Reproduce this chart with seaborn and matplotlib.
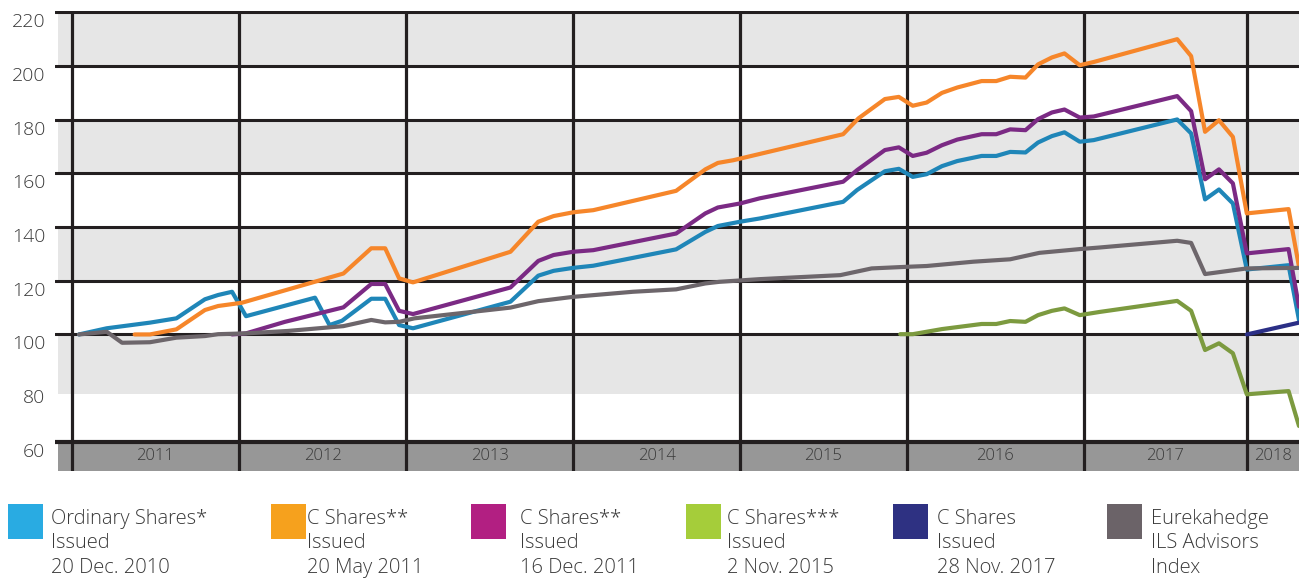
import numpy as np
import pandas as pd
import matplotlib
matplotlib.use("Agg")
import matplotlib.pyplot as plt
import matplotlib.transforms as mtransforms
from matplotlib.patches import Rectangle
import seaborn as sns

# x values = months counted from the start of 2011
ord_x = [0.5, 2.5, 5.6, 7.5, 9.55, 10.5, 11.5, 12.5, 17.46, 18.5, 19.4, 21.5, 22.5, 23.5, 24.5,
         31.5, 33.5, 34.6, 36.0, 37.45, 43.4, 45.5, 46.4, 48.0, 49.4, 55.4, 56.4, 58.4, 59.4,
         60.4, 61.4, 62.5, 63.6, 65.35, 66.4, 67.4, 68.5, 69.4, 70.4, 71.3, 72.4, 73.4, 79.4,
         80.4, 81.4, 82.4, 83.4, 84.4, 87.4, 88.15]
ord_y = [100.0, 102.3, 104.4, 106.0, 113.1, 114.7, 115.9, 106.8, 113.7, 103.5, 105.1, 113.3, 113.3,
         103.5, 102.3, 112.2, 121.9, 123.7, 124.8, 125.6, 131.7, 138.2, 140.4, 142.0, 143.2, 149.4,
         153.8, 160.8, 161.7, 158.7, 159.7, 162.7, 164.6, 166.5, 166.5, 168.0, 167.8, 171.5, 173.9,
         175.3, 171.8, 172.4, 180.1, 174.9, 150.3, 154.0, 148.8, 124.2, 125.8, 105.4]

c11_x = [4.5, 5.6, 7.5, 9.55, 10.5, 12.2, 19.5, 21.5, 22.5, 23.5, 24.5, 31.5, 33.5, 34.6, 36.0,
         37.45, 43.4, 45.5, 46.4, 47.5, 55.4, 56.5, 58.4, 59.4, 60.4, 61.4, 62.5, 63.6, 65.35,
         66.4, 67.4, 68.5, 69.4, 70.4, 71.3, 72.4, 73.4, 79.4, 80.4, 81.4, 82.4, 83.4, 84.4,
         87.4, 88.15]
c11_y = [100.0, 100.0, 101.9, 109.1, 110.6, 111.8, 122.7, 132.1, 132.1, 120.9, 119.4, 130.8, 142.0,
         144.1, 145.5, 146.3, 153.5, 161.5, 163.9, 164.9, 174.6, 180.5, 187.7, 188.5, 185.2, 186.4,
         190.0, 192.0, 194.4, 194.4, 196.0, 195.7, 200.6, 203.2, 204.7, 200.3, 201.5, 210.0, 203.7,
         175.5, 179.8, 173.6, 145.1, 146.7, 125.2]

c12_x = [11.5, 12.5, 15.3, 19.5, 21.5, 22.5, 23.5, 24.5, 31.5, 33.5, 34.6, 36.0, 37.45, 43.4,
         45.5, 46.4, 48.0, 49.4, 55.4, 56.4, 58.4, 59.4, 60.4, 61.4, 62.5, 63.6, 65.35, 66.4,
         67.4, 68.5, 69.4, 70.4, 71.3, 72.4, 73.4, 79.4, 80.4, 81.4, 82.4, 83.4, 84.4, 87.4, 88.15]
c12_y = [100.0, 100.4, 104.7, 110.1, 118.8, 118.8, 108.8, 107.6, 117.5, 127.4, 129.6, 130.8, 131.4,
         137.6, 145.1, 147.3, 148.8, 150.7, 156.9, 161.2, 168.7, 169.7, 166.5, 167.7, 170.5, 172.6,
         174.6, 174.6, 176.4, 176.1, 180.2, 182.7, 183.8, 180.8, 181.2, 188.8, 183.2, 157.8, 161.5,
         156.3, 130.2, 131.8, 110.3]

c15_x = [59.5, 60.4, 62.5, 65.35, 66.4, 67.4, 68.5, 69.4, 70.4, 71.3, 72.4, 73.85, 79.4, 80.4,
         81.4, 82.4, 83.4, 84.4, 87.4, 88.15]
c15_y = [100.1, 100.1, 102.0, 103.9, 103.9, 105.0, 104.7, 107.2, 108.8, 109.7, 107.2, 108.4, 112.5,
         108.8, 94.2, 96.7, 93.0, 77.7, 78.9, 65.9]

c17_x = [84.4, 88.15]
c17_y = [100.0, 104.4]

ils_x = [0.5, 2.5, 3.6, 5.6, 7.5, 9.55, 10.5, 12.5, 15.5, 19.5, 21.5, 22.5, 23.5, 24.6, 31.5,
         33.5, 36.0, 40.3, 43.4, 45.5, 46.5, 49.4, 55.2, 57.45, 59.96, 61.4, 64.75, 67.4, 69.5,
         72.4, 73.85, 79.4, 80.4, 81.4, 84.4, 88.15]
ils_y = [100.0, 101.0, 96.9, 97.1, 98.8, 99.4, 100.1, 100.4, 101.3, 103.1, 105.4, 104.5, 104.7,
         106.0, 110.0, 112.4, 114.0, 115.9, 116.8, 119.0, 119.6, 120.6, 122.1, 124.6, 125.2, 125.5,
         127.1, 128.0, 130.4, 131.8, 132.4, 134.9, 134.1, 122.5, 124.6, 124.8]

series_names = ["Ordinary", "C 2011 May", "C 2011 Dec", "C 2015", "C 2017", "ILS"]
line_colors = ["#1f86b8", "#f6862a", "#7b2a84", "#7c9a3f", "#2b2f86", "#6d666b"]
legend_colors = ["#29abe2", "#f6a11d", "#b21f82", "#a5cd3a", "#2e3182", "#6b6368"]
legend_text = [
    ["Ordinary Shares*", "Issued", "20 Dec. 2010"],
    ["C Shares**", "Issued", "20 May 2011"],
    ["C Shares**", "Issued", "16 Dec. 2011"],
    ["C Shares***", "Issued", "2 Nov. 2015"],
    ["C Shares", "Issued", "28 Nov. 2017"],
    ["Eurekahedge", "ILS Advisors", "Index"],
]

year_labels = ["2011", "2012", "2013", "2014", "2015", "2016", "2017", "2018"]
year_edges = [0, 12, 24, 36, 48, 59.96, 72.7, 84.4]
y_ticks = [60, 80, 100, 120, 140, 160, 180, 200, 220]

frames = []
for name, xs, ys in zip(series_names,
                        [ord_x, c11_x, c12_x, c15_x, c17_x, ils_x],
                        [ord_y, c11_y, c12_y, c15_y, c17_y, ils_y]):
    frames.append(pd.DataFrame({"x": xs, "value": ys, "series": name}))
df = pd.concat(frames, ignore_index=True)

sns.set_style("white")
plt.rcParams["font.family"] = ["Open Sans", "DejaVu Sans"]
plt.rcParams["font.weight"] = "light"

W, H = 1299, 578
fig = plt.figure(figsize=(W / 100, H / 100), dpi=100)
ax = fig.add_axes([55 / W, 1 - 470.7 / H, (W - 55) / W, (470.7 - 11) / H])
ax.set_xlim(-1.22, 88.15)
ax.set_ylim(49.24, 220.5)

dark = "#231f20"
text_col = "#3a3a3a"
xmin_frac = 3 / (W - 55)
# background bands
for lo, hi in [(78, 100), (120, 140), (160, 180), (200, 220)]:
    ax.axhspan(lo, hi, xmin=xmin_frac, color="#e6e6e6", lw=0, zorder=0)
ax.axhspan(49.24, 60, xmin=xmin_frac, color="#979797", lw=0, zorder=0)

for v in [100, 120, 140, 160, 180, 200, 220]:
    ax.axhline(v, color=dark, lw=2.2, zorder=1)
ax.axhline(60, color=dark, lw=3.0, zorder=1)
for e in year_edges:
    ax.axvline(e, color=dark, lw=2.3, zorder=1.5)

sns.lineplot(data=df, x="x", y="value", hue="series", palette=dict(zip(series_names, line_colors)),
             estimator=None, sort=False, linewidth=3, legend=False, ax=ax, zorder=3)

# year labels inside the grey band
mids = [(a + b) / 2 for a, b in zip(year_edges, year_edges[1:] + [88.15])]
for m, lab in zip(mids, year_labels):
    ax.text(m, 54.9, lab, ha="center", va="center", fontsize=12, color=text_col)

# month ticks
minor = []
for a, b in zip(year_edges[:-1], year_edges[1:]):
    minor += [a + k * (b - a) / 12 for k in range(1, 12)]
minor += [84.4 + k for k in range(1, 4)]
ax.set_xticks(year_edges)
ax.set_xticks(minor, minor=True)
ax.set_xticklabels([])
ax.tick_params(axis="x", which="major", length=10, width=2.3, color=dark, direction="out")
ax.tick_params(axis="x", which="minor", length=8, width=1.1, color=dark, direction="out")

ax.set_yticks(y_ticks)
ax.set_yticklabels([str(t) for t in y_ticks])
ax.tick_params(axis="y", length=0, pad=7, labelsize=14, labelcolor=text_col)
off = mtransforms.ScaledTranslation(0, -0.08, fig.dpi_scale_trans)
for lab in ax.get_yticklabels():
    lab.set_transform(lab.get_transform() + off)
ax.set_xlabel("")
ax.set_ylabel("")
for s in ax.spines.values():
    s.set_visible(False)

# legend squares and text
sq_x = [8, 271, 471, 686, 893, 1107]
txt_x = [51, 307, 520, 727, 937, 1151]
for sx, tx, col, lines in zip(sq_x, txt_x, legend_colors, legend_text):
    fig.add_artist(Rectangle((sx / W, 1 - 539 / H), 35 / W, 35 / H, transform=fig.transFigure,
                             color=col, lw=0))
    for i, line in enumerate(lines):
        fig.text(tx / W, 1 - (524 + 24.5 * i) / H, line, va="baseline", ha="left",
                 fontsize=14.5, color=text_col)

fig.savefig("out.png", dpi=100)
